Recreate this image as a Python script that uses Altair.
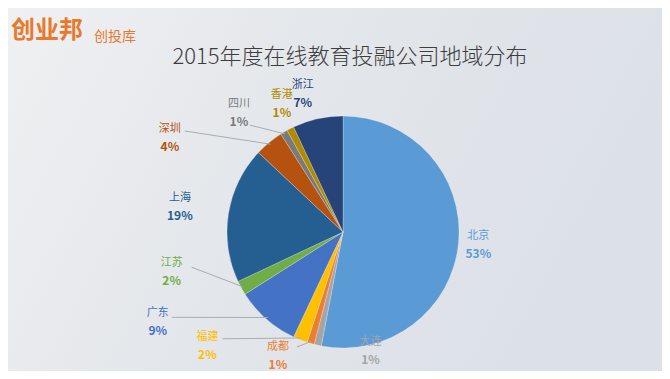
import math
import altair as alt
import pandas as pd

# ---- data ----
regions = ["北京", "大连", "成都", "福建", "广东", "江苏", "上海", "深圳", "四川", "香港", "浙江"]
shares = [53, 1, 1, 2, 9, 2, 19, 4, 1, 1, 7]
pct_labels = ["53%", "1%", "1%", "2%", "9%", "2%", "19%", "4%", "1%", "1%", "7%"]

# ---- styles ----
slice_colors = ["#5b9bd5", "#a5a5a5", "#ed7d31", "#ffc000", "#4472c4", "#70ad47",
                "#255e91", "#b5520f", "#7a7a7a", "#b08a00", "#264478"]
label_colors = ["#5f84b4", "#a0a0a0", "#ed7d31", "#f5b800", "#3c5ea8", "#6aa843",
                "#2d5585", "#c0581a", "#6a6a6a", "#b08a00", "#2a4a80"]

# ---- layout (label placement in polar terms: degrees clockwise from 12 o'clock, px radius) ----
label_angle = [95.5, 167, 207.7, 230, 244, 256.8, 278.7, 298.5, 318.8, 334.5, 343.8]
label_radius = [136, 122, 140, 177, 206, 176, 165, 197, 158, 142, 144]
has_leader = [False, False, True, True, True, True, False, True, True, False, False]
leader_dx = [0, 0, 19, 15, 14, 20, 0, 15, 11, 0, 0]
leader_dy = [0, 0, -9, -7, -5, -5, 0, -7, 12, 0, 0]

W, H = 654, 363
CX, CY, R = 335, 224, 116

total = sum(shares)
rows = []
cum = 0
for i, (name, v) in enumerate(zip(regions, shares)):
    mid = (cum + v / 2) / total * 2 * math.pi
    cum += v
    a = math.radians(label_angle[i])
    lx = CX + label_radius[i] * math.sin(a)
    ly = CY - label_radius[i] * math.cos(a)
    rows.append(dict(
        idx=i, name=name, value=v, pct=pct_labels[i],
        lx=lx, ly_name=ly - 9, ly_pct=ly + 9,
        sx=lx + leader_dx[i], sy=ly + leader_dy[i],
        ex=CX + (R - 2) * math.sin(mid), ey=CY - (R - 2) * math.cos(mid),
        leader=has_leader[i],
    ))
df = pd.DataFrame(rows)

color_scale = alt.Scale(domain=regions, range=slice_colors)
label_scale = alt.Scale(domain=regions, range=label_colors)

bg = alt.Chart(alt.Data(values=[{"a": 1}])).mark_rect(
    fill=alt.LinearGradient(
        gradient="linear", x1=0, y1=0, x2=1, y2=0.3,
        stops=[alt.GradientStop(color="#eff0f2", offset=0),
               alt.GradientStop(color="#e3e6ea", offset=0.5),
               alt.GradientStop(color="#dce1e8", offset=1)],
    )
).encode(x=alt.value(0), x2=alt.value(W), y=alt.value(0), y2=alt.value(H))

pie = alt.Chart(df).mark_arc(stroke="#ffffff", strokeWidth=0.4, strokeOpacity=0.6).encode(
    theta=alt.Theta("value:Q", stack=True),
    color=alt.Color("name:N", scale=color_scale, legend=None),
    order=alt.Order("idx:Q"),
    x=alt.value(CX), y=alt.value(CY),
    radius=alt.value(R),
)

leaders = alt.Chart(df[df["leader"]]).mark_rule(color="#a9adb3", strokeWidth=1).encode(
    x=alt.X("sx:Q", scale=None), y=alt.Y("sy:Q", scale=None),
    x2="ex:Q", y2="ey:Q",
)

names = alt.Chart(df).mark_text(font="Noto Sans CJK SC", fontSize=11, align="center",
                                baseline="middle").encode(
    x=alt.X("lx:Q", scale=None), y=alt.Y("ly_name:Q", scale=None),
    text="name:N",
    color=alt.Color("name:N", scale=label_scale, legend=None),
)

pcts = alt.Chart(df).mark_text(font="Noto Sans CJK SC", fontSize=12, fontWeight="bold",
                               align="center", baseline="middle").encode(
    x=alt.X("lx:Q", scale=None), y=alt.Y("ly_pct:Q", scale=None),
    text="pct:N",
    color=alt.Color("name:N", scale=label_scale, legend=None),
)

title = alt.Chart(alt.Data(values=[{"t": "2015年度在线教育投融公司地域分布"}])).mark_text(
    font="Noto Sans CJK SC", fontSize=22, fontWeight=300, color="#3d3d3d",
    align="center", baseline="middle",
).encode(x=alt.value(342), y=alt.value(49), text="t:N")

logo = alt.Chart(alt.Data(values=[{"t": "创业邦"}])).mark_text(
    font="Noto Sans CJK SC", fontSize=24, fontWeight="bold", color="#e8792d",
    align="left", baseline="middle",
).encode(x=alt.value(3), y=alt.value(23), text="t:N")

logo2 = alt.Chart(alt.Data(values=[{"t": "创投库"}])).mark_text(
    font="Noto Sans CJK SC", fontSize=14, color="#e8792d",
    align="left", baseline="middle",
).encode(x=alt.value(86), y=alt.value(29), text="t:N")

chart = alt.layer(bg, pie, leaders, names, pcts, title, logo, logo2).properties(
    width=W, height=H, padding=0, autosize=alt.AutoSizeParams(type="none"),
    background="#e6e8ec",
).configure_view(stroke=None)

chart.save("out.html", embed_options={"renderer": "svg", "actions": False})
